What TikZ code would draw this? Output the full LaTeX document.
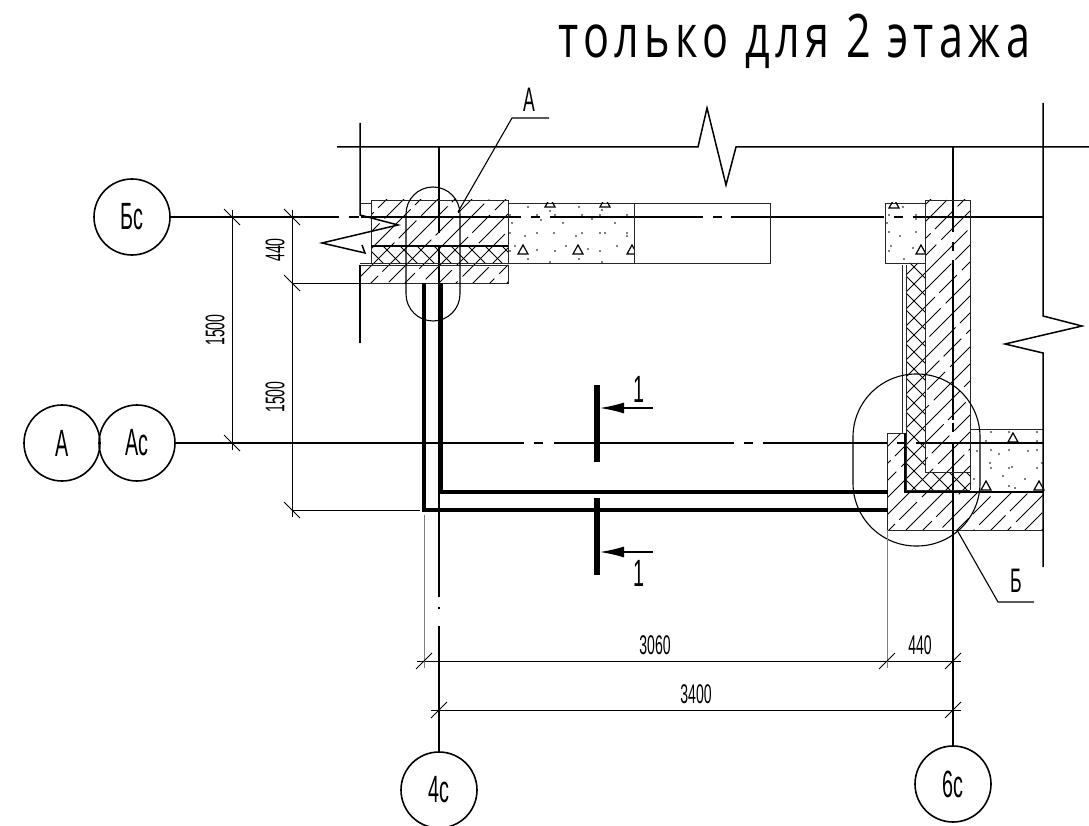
\documentclass[tikz,border=0pt]{standalone}
\usepackage{fontspec}
\setmainfont{Liberation Sans}
\newfontfamily\drawfont[FakeStretch=0.52]{Liberation Sans}
\newfontfamily\titlefont[FakeStretch=0.72, LetterSpace=9]{Open Sans}
\usetikzlibrary{arrows.meta}

\tikzset{
  gridbubble/.style={draw=black, line width=1.6pt, circle, minimum size=76pt, inner sep=0pt, font=\drawfont\fontsize{38}{38}\selectfont},
  axisline/.style={black, line width=1.5pt},
  edgeline/.style={black!85, line width=0.9pt},
  wallline/.style={black, line width=4pt},
  thinline/.style={black, line width=0.8pt},
  extline/.style={gray, line width=1pt},
  breakline/.style={black, line width=1.5pt, line join=miter},
  hatchline/.style={black, line width=0.8pt},
  dimlabel/.style={font=\drawfont\fontsize{27}{27}\selectfont, inner sep=0pt},
  callout/.style={font=\drawfont\fontsize{38}{38}\selectfont, inner sep=0pt},
}
% Diagonal hatching inside a closed path
\newcommand{\hatchfill}[1]{
  \begin{scope}
    \clip #1;
    \foreach \hc [evaluate=\hc as \hp using {mod(\hc*3,98)}] in {501,518,...,2000}
      \draw[hatchline, dash pattern=on 60pt off 7pt on 25pt off 6pt, dash phase=\hp pt] (\hc,0) -- ++(-826,826);
  \end{scope}
}
% Crossed hatching inside a closed path
\newcommand{\crossfill}[1]{
  \begin{scope}
    \clip #1;
    \foreach \hc in {501,518,...,2000}
      \draw[hatchline] (\hc,0) -- ++(-826,826);
    \foreach \hc in {-560,-543,...,800}
      \draw[hatchline] (\hc,0) -- ++(826,826);
  \end{scope}
}
\newcommand{\concretetri}[2]{\draw[thinline, line width=1.2pt] (#1-5,#2+4) -- (#1,#2-5) -- (#1+5,#2+4) -- cycle;}

\begin{document}
\begin{tikzpicture}[x=1pt, y=-1pt]
  \useasboundingbox (0,0) rectangle (1089,826);
  \clip (0,0) rectangle (1089,826);
  \fill[white] (0,0) rectangle (1089,826);

  % Title
  \node[anchor=base west, inner sep=0pt, font=\titlefont\fontsize{60}{60}\selectfont] (title) at (558,58) {только для 2 этажа};

  % Grid bubbles
  \node[gridbubble] (Bc) at (132,217) {Бс};
  \node[gridbubble] (A) at (62,443) {А};
  \node[gridbubble] (Ac) at (137,443) {Ас};
  \node[gridbubble] (4c) at (439,790) {4с};
  \node[gridbubble] (6c) at (953,784) {6с};
  \coordinate (BcEnd) at (1043,217);
  \coordinate (AcEnd) at (1043,443);
  \coordinate (4cTop) at (439,147);
  \coordinate (6cTop) at (953,147);

  % Grid axes
  \draw[axisline, dash pattern=on 168pt off 10pt on 10pt off 2pt on 160pt off 10pt on 9pt off 10pt on 153pt off 10pt on 9pt off 9pt on 153pt off 10pt on 9pt off 10pt on 140pt] (Bc) -- (BcEnd);
  \draw[axisline, line width=1.2pt, dash pattern=on 348pt off 10pt on 9pt off 11pt on 180pt off 10pt on 9pt off 10pt on 124pt off 10pt on 7pt off 12pt on 140pt] (Ac) -- (AcEnd);
  \draw[axisline, dash pattern=on 86pt off 13pt on 351pt off 10pt on 2pt off 17pt on 140pt] (4cTop) -- (4c);
  \draw[axisline, dash pattern=on 85pt off 10pt on 9pt off 9pt on 160pt off 3pt on 9pt off 10pt on 320pt] (6cTop) -- (6c);
  \draw[axisline, line width=1.2pt] (A) -- (Ac);

  % Hatched blocks
  \hatchfill{(371,200) rectangle (508,246)}
  \hatchfill{(360,265) rectangle (508,283)}
  \hatchfill{(925,200) rectangle (970,472)}
  \hatchfill{(887,433) -- (905,433) -- (905,492) -- (1043,492) -- (1043,530) -- (887,530) -- cycle}
  % Insulation
  \crossfill{(371,246) rectangle (508,263)}
  \crossfill{(907,263) -- (925,263) -- (925,472) -- (970,472) -- (970,490) -- (907,490) -- cycle}

  % Outlines, left corner
  \draw[edgeline] (371,200) rectangle (508,246);
  \draw[edgeline] (371,246) rectangle (508,263);
  \draw[edgeline] (360,265) rectangle (508,283);
  \draw[black, line width=2.6pt] (371,246) -- (508,246);
  \draw[edgeline] (360,203) -- (371,203);
  \draw[edgeline] (360,263) -- (371,263);
  \draw[edgeline] (508,203) rectangle (634,263);
  \draw[edgeline] (634,203) rectangle (770,263);
  % Outlines, right corner
  \draw[edgeline] (885,203) rectangle (925,263);
  \draw[edgeline] (925,200) -- (970,200) -- (970,490);
  \draw[edgeline] (925,200) -- (925,472) -- (970,472);
  \draw[edgeline] (902,265) -- (902,433);
  \draw[edgeline] (906,265) -- (906,490) -- (970,490);
  \draw[edgeline] (905,433) -- (887,433) -- (887,530) -- (1043,530);
  \draw[black, line width=1.6pt] (905,433) -- (905,492) -- (1043,492);
  \draw[edgeline] (970,429) -- (1043,429);

  % Concrete
  \foreach \dotx/\doty in {528/207,550/211,579/207,602/210,510/215,537/215,555/215,582/215,600/215,627/215,541/220,592/219,512/223,563/223,615/223,510/233,537/233,554/233,582/233,600/233,605/233,627/233,627/236,525/236,576/236,515/246,510/251,537/250,555/251,566/246,588/249,600/251,617/246,528/259,550/262,579/259,602/262,903/207,889/215,916/215,916/219,887/223,889/232,900/236,916/232,891/246,889/251,913/248,904/259,991/432,1009/432,1037/432,986/441,1037/441,977/451,991/450,999/454,1009/450,1028/451,1037/450,990/463,991/468,1009/468,1012/467,1037/468,1042/463,1003/476,1025/479,974/479,1009/486,1015/488}
    \fill[black] (\dotx,\doty) circle (0.9);
  \concretetri{523}{250}
  \concretetri{578}{250}
  \begin{scope}
    \clip (508,203) rectangle (634,263);
    \concretetri{632}{250}
    \concretetri{550}{203}
    \concretetri{605}{203}
  \end{scope}
  \begin{scope}
    \clip (885,203) rectangle (925,263);
    \concretetri{894}{204}
    \concretetri{921}{250}
  \end{scope}
  \concretetri{1013}{438}
  \concretetri{986}{486}
  \concretetri{1039}{486}

  % Inner and outer wall lines
  \draw[wallline, line join=miter] (441,283) -- (441,492) -- (888,492);
  \draw[wallline, line join=miter] (424,283) -- (424,510) -- (888,510);

  % Break lines
  \draw[breakline] (337,147) -- (698,147) -- (707,108) -- (726,185) -- (736,147) -- (1089,147);
  \draw[breakline] (1043,103) -- (1043,316) -- (1082,326) -- (1005,344) -- (1043,353) -- (1043,567);
  \draw[breakline] (360,123) -- (360,215) -- (398,225) -- (322,243) -- (365,253) -- (362,245);
  \draw[breakline] (360,265) -- (360,343);

  % Section marks
  \draw[black, line width=6pt] (597,385) -- (597,462);
  \draw[black, line width=6pt] (597,498) -- (597,575);
  \draw[-{Latex[length=24pt, width=11pt]}, line width=1.3pt] (653,408) -- (600,408);
  \draw[-{Latex[length=24pt, width=11pt]}, line width=1.3pt] (653,552) -- (600,552);
  \node[callout] (sec1a) at (639,389) {1};
  \node[callout] (sec1b) at (639,573) {1};

  % Detail outlines
  \draw[axisline, line width=1.1pt, rounded corners=27pt] (406,187) rectangle (460,321);
  \draw[axisline, line width=1.1pt, rounded corners=63pt] (853,374) rectangle (980,546);
  \draw[thinline, line width=1.1pt] (458,212) -- (512,118) -- (549,118);
  \draw[thinline, line width=1.1pt] (957,530) -- (998,602) -- (1034,602);
  \node[callout, font=\drawfont\fontsize{34}{34}\selectfont] (detA) at (529,100) {А};
  \node[callout, font=\drawfont\fontsize{34}{34}\selectfont] (detB) at (1016,581) {Б};

  % Dimensions
  \draw[thinline] (232,210) -- (232,450);
  \draw[thinline] (292,210) -- (292,517);
  \draw[thinline] (292,283) -- (360,283);
  \draw[thinline] (292,510) -- (420,510);
  \draw[thinline] (417,661) -- (961,661);
  \draw[thinline] (431,710) -- (961,710);
  \draw[extline] (424,515) -- (424,668);
  \draw[extline] (887,530) -- (887,668);
  \foreach \tx/\ty in {232/217,232/443,292/217,292/283,292/510}
    \draw[thinline] (\tx-8,\ty-8) -- (\tx+8,\ty+8);
  \foreach \tx/\ty in {424/661,887/661,953/661,439/710,953/710}
    \draw[thinline] (\tx-8,\ty+8) -- (\tx+8,\ty-8);
  \node[dimlabel, rotate=90] (dim440v) at (275,250) {440};
  \node[dimlabel, rotate=90] (dim1500a) at (215,330) {1500};
  \node[dimlabel, rotate=90] (dim1500b) at (275,397) {1500};
  \node[dimlabel] (dim3060) at (655,645) {3060};
  \node[dimlabel] (dim440h) at (920,645) {440};
  \node[dimlabel] (dim3400) at (696,694) {3400};
\end{tikzpicture}
\end{document}
